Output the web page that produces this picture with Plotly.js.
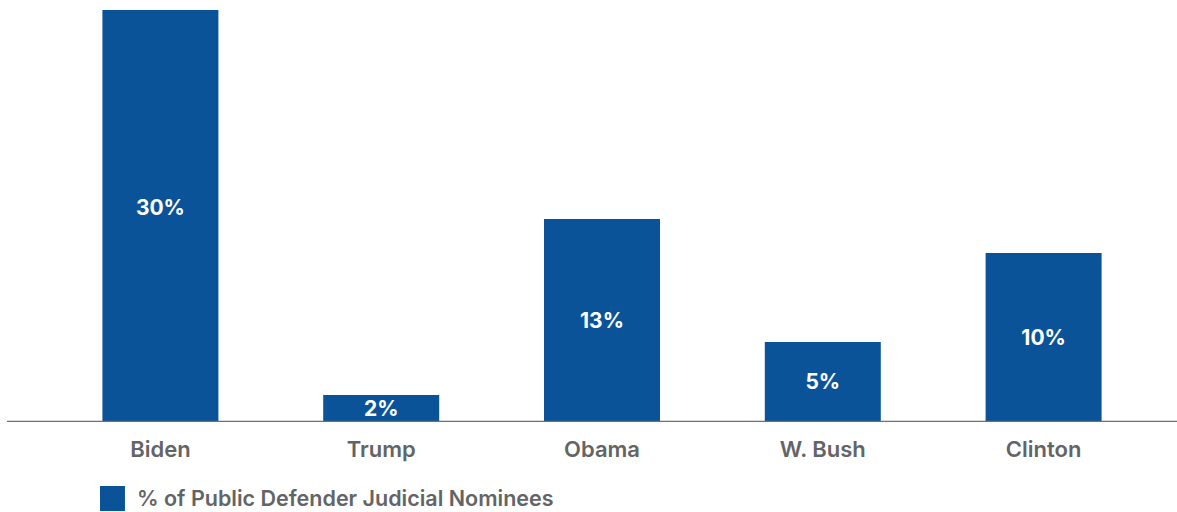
<!DOCTYPE html>
<html>
<head>
<meta charset="utf-8">
<script src="https://cdn.plot.ly/plotly-3.0.1.min.js"></script>
<style>html,body{margin:0;padding:0;background:#fff;}#chart{width:1177px;height:512px;}</style>
</head>
<body>
<div id="chart"></div>
<script>
// Data
const presidents = ["Biden", "Trump", "Obama", "W. Bush", "Clinton"];
// bar heights as drawn (Biden's bar runs past the top of the frame)
const shareValues = [26.5, 1.67, 12.53, 4.94, 10.43];
const shareLabels = ["30%", "2%", "13%", "5%", "10%"];
const seriesName = "% of Public Defender Judicial Nominees";

const BLUE = "#0b5399";
const GRAY = "#636466";
const FONT = "Inter, 'Open Sans', sans-serif";

const trace = {
  type: "bar",
  x: presidents,
  y: shareValues,
  text: shareLabels,
  textposition: "inside",
  insidetextanchor: "middle",
  constraintext: "none",
  textangle: 0,
  insidetextfont: {family: FONT, size: 21, color: "#ffffff", weight: 700},
  marker: {color: BLUE, line: {width: 0}},
  name: seriesName,
  showlegend: false,
  hoverinfo: "skip"
};

const layout = {
  width: 1177,
  height: 512,
  margin: {l: 50, r: 23, t: 10, b: 90, pad: 0},
  paper_bgcolor: "#ffffff",
  plot_bgcolor: "#ffffff",
  bargap: 0.4746,
  font: {family: FONT, color: GRAY},
  xaxis: {
    type: "category",
    showgrid: false,
    zeroline: false,
    showline: false,
    ticks: "",
    tickfont: {family: FONT, size: 22, color: GRAY, weight: 600},
    ticklabelstandoff: 12
  },
  yaxis: {
    range: [0, 25.43],
    showgrid: false,
    zeroline: false,
    showline: false,
    showticklabels: false,
    ticks: ""
  },
  shapes: [
    {type: "line", xref: "paper", yref: "y", x0: -0.039, x1: 1.03, y0: 0, y1: 0,
     line: {color: "#6d6f71", width: 2.5}, layer: "above"},
    {type: "rect", xref: "paper", yref: "paper", x0: 0.0453, x1: 0.0679, y0: -0.1553, y1: -0.216,
     fillcolor: BLUE, line: {width: 0}}
  ],
  annotations: [
    {xref: "paper", yref: "paper", x: 0.077, y: -0.1845, xanchor: "left", yanchor: "middle",
     text: seriesName, showarrow: false,
     font: {family: FONT, size: 21.5, color: GRAY, weight: 600}}
  ]
};

Plotly.newPlot("chart", [trace], layout, {displayModeBar: false, staticPlot: true});
</script>
</body>
</html>
